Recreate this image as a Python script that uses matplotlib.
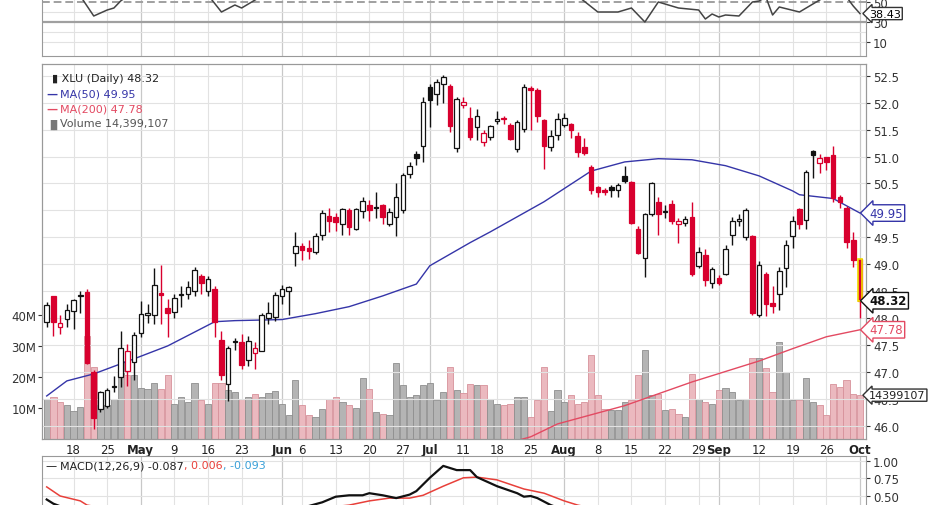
import numpy as np
import pandas as pd
import matplotlib
matplotlib.use("Agg")
import matplotlib.pyplot as plt
from matplotlib.offsetbox import TextArea, HPacker, AnchoredOffsetbox

# ---------------- data ----------------
opens = [47.92,48.40,47.83,47.98,48.13,48.40,48.48,47.00,46.31,46.37,46.72,46.90,47.02,47.18,47.72,48.05,48.05,48.47,48.18,48.11,
         48.42,48.45,48.51,48.78,48.50,48.54,47.59,46.77,47.55,47.56,47.21,47.35,47.39,48.00,48.01,48.40,48.51,49.20,49.33,49.30,
         49.22,49.54,49.90,49.88,49.75,50.00,49.66,49.98,50.10,50.06,50.09,49.75,49.87,50.00,50.68,51.05,51.19,52.29,52.17,52.35,
         52.32,51.15,51.95,51.71,51.55,51.27,51.37,51.66,51.70,51.58,51.14,51.51,52.27,52.24,51.67,51.17,51.40,51.58,51.60,51.39,
         51.17,50.80,50.43,50.38,50.43,50.37,50.63,50.52,49.66,49.12,49.94,50.16,49.97,50.12,49.75,49.77,49.87,48.97,49.17,48.65,
         48.75,48.82,49.54,49.81,49.50,49.53,48.05,48.82,48.28,48.45,48.93,49.52,50.02,49.82,51.11,50.88,50.99,51.02,50.24,50.04,
         49.44,49.10]
highs = [48.29,48.41,48.05,48.26,48.36,48.50,48.54,47.03,46.65,46.70,46.93,47.75,47.52,47.74,48.32,48.25,48.92,48.99,48.36,48.45,
         48.60,48.68,48.95,48.82,48.78,48.60,47.75,47.48,47.62,47.70,47.66,47.55,48.10,48.30,48.48,48.62,48.60,49.59,49.40,49.45,
         49.58,50.00,50.05,49.95,50.05,50.05,50.05,50.25,50.20,50.35,50.12,50.05,50.50,50.70,50.90,51.10,52.10,52.35,52.45,52.52,
         52.35,52.10,52.10,51.92,51.89,51.50,51.58,51.85,51.75,51.62,51.68,52.35,52.32,52.28,51.70,51.50,51.80,51.81,51.62,51.45,
         51.35,50.85,50.45,50.42,50.48,50.50,50.83,50.55,49.70,49.95,50.53,50.25,50.10,50.20,49.85,49.90,50.15,49.32,49.28,48.95,
         48.80,49.35,49.88,49.93,50.05,49.55,49.05,48.85,48.60,48.95,49.45,49.90,50.05,50.75,51.12,51.05,51.00,51.20,50.28,50.08,
         49.60,49.10]
lows = [47.83,47.67,47.70,47.83,47.80,48.10,47.15,45.94,46.25,46.33,46.62,46.72,46.74,46.84,47.64,47.90,47.89,47.89,47.64,48.00,
        48.20,48.35,48.40,48.45,48.40,47.65,46.85,46.46,47.40,47.05,47.10,47.05,47.39,47.88,47.95,48.25,48.05,48.97,49.08,49.10,
        49.18,49.45,49.60,49.62,49.55,49.55,49.63,49.85,49.80,49.85,49.75,49.70,49.53,49.95,50.60,50.85,50.90,51.55,51.95,52.00,
        51.45,51.08,51.90,51.30,51.30,51.20,51.30,51.60,51.60,51.30,51.08,51.45,51.50,51.65,50.77,51.10,51.30,51.55,51.35,51.00,
        51.02,50.30,50.25,50.28,50.25,50.25,50.50,49.75,49.18,48.76,49.90,49.55,49.85,49.75,49.40,49.70,48.78,48.92,48.60,48.55,
        48.62,48.80,49.35,49.70,49.45,48.05,48.02,48.03,48.10,48.15,48.58,49.30,49.65,49.65,50.60,50.70,50.75,50.15,50.05,49.30,
        48.95,48.00]
closes = [48.24,47.92,47.90,48.14,48.34,48.42,47.17,46.14,46.62,46.66,46.74,47.44,47.39,47.69,48.08,48.10,48.61,48.43,48.09,48.37,
          48.44,48.58,48.90,48.65,48.73,47.92,46.94,47.44,47.56,47.13,47.58,47.44,48.05,48.09,48.43,48.54,48.57,49.33,49.27,49.24,
          49.52,49.95,49.81,49.78,50.02,49.69,50.02,50.18,50.00,50.05,49.87,49.97,50.24,50.65,50.83,50.97,52.02,52.05,52.39,52.47,
          51.56,52.07,52.02,51.36,51.76,51.44,51.56,51.70,51.69,51.33,51.64,52.29,52.24,51.76,51.20,51.39,51.70,51.71,51.50,51.08,
          51.07,50.37,50.35,50.34,50.37,50.47,50.54,49.77,49.20,49.93,50.51,49.93,49.99,49.81,49.80,49.83,48.82,49.22,48.70,48.91,
          48.65,49.28,49.81,49.84,50.00,48.09,48.99,48.26,48.22,48.88,49.35,49.81,49.74,50.71,51.02,50.98,50.90,50.23,50.16,49.42,
          49.08,48.32]
volume_m = [13,13.5,12,11,9,10.3,33,23,11,11,13,25,20.5,20.5,16.5,16,18,16,20.5,11.4,
            13.5,12,18,12.5,11.4,18,18,15.7,15.2,13,13.5,14.6,13.5,14.8,15.4,11.4,7.8,19,11,7.8,
            7,9.6,13,13.5,12,11,10,19.5,16,8.7,8.2,7.8,24.3,17.3,13.5,14,17.3,18,12.5,15.2,
            23,15.7,14.8,17.8,17.3,17.3,13,11.4,11,11.4,13.5,13.5,7,12.5,23,9,15.7,12,14,11.4,
            12,27,14,9.8,9.2,9.2,12,12.5,20.5,28.6,14,14.6,9.2,9.8,8.2,7,21,13,12,11.4,
            15.7,16.5,15.2,12.5,13,26,26,22.7,15.2,31.3,21.6,12.5,12.5,19.5,12,11,7.8,17.8,16.8,19,
            14.6,14.1]

ma50_idx = [0,3,7,13,18,25,28,35,40,45,50,55,57,63,66,74,81,86,91,96,101,106,111,112,117,121]
ma50_val = [46.55,46.83,46.96,47.24,47.48,47.93,47.95,47.97,48.08,48.21,48.41,48.63,48.97,49.40,49.60,50.16,50.73,50.90,50.96,50.94,50.83,50.64,50.36,50.29,50.22,49.95]
ma200_idx = [67,72,76,86,96,106,111,116,121]
ma200_val = [45.62,45.79,46.03,46.37,46.81,47.20,47.43,47.65,47.78]

rsi_idx = [0,3,5,7,9,10,11,12,18,24,26,28,29,30,32,40,50,58,66,75,79,82,85,87,89,91,93,94,97,98,99,100,101,103,105,106,107,108,109,112,116,118,119,120,121]
rsi_val = [60,58,56,36,42,44,51,56,62,57,40,47,44,48,56,62,65,75,65,60,56,40,40,44,30,50,46,44,42,33,38,35,37,36,50,51,55,37,45,40,56,62,55,46,38.43]

macd_idx = [0,1,4,10,20,30,38,41,43,45,47,48,50,52,54,55,57,59,61,63,64,67,70,71,72,73,75,80,90,100,110,116,121]
macd_val = [0.45,0.39,0.28,0.20,0.10,0.18,0.33,0.41,0.49,0.51,0.51,0.54,0.51,0.47,0.52,0.57,0.76,0.93,0.87,0.87,0.77,0.64,0.54,0.49,0.50,0.47,0.37,0.20,0.05,-0.15,-0.05,0.10,-0.087]
sig_idx = [0,2,5,6,15,30,45,48,51,54,56,59,62,64,67,71,74,77,79,90,105,121]
sig_val = [0.63,0.50,0.43,0.37,0.22,0.22,0.37,0.43,0.47,0.47,0.51,0.64,0.76,0.77,0.73,0.60,0.54,0.43,0.37,0.15,0.00,0.006]

holidays = ["2011-05-30", "2011-07-04", "2011-09-05"]

# ---------------- layout ----------------
W, H = 931, 506
fig = plt.figure(figsize=(W/100, H/100), dpi=100)
fig.patch.set_facecolor("white")
def rect(x0, y0, x1, y1):
    return [x0/W, 1 - y1/H, (x1-x0)/W, (y1-y0)/H]

n = len(closes)
dates = pd.bdate_range(end="2011-10-03", periods=n + 3, freq="C", holidays=holidays)[-n:]
x = np.arange(n)

RED = "#d8002e"; BLK = "#111111"
GRID = "#e2e2e2"; GRIDM = "#c8c8c8"
XL = (-0.7, 121.9)

mon_pos, mon_lab = [], []
wk_pos, wk_lab = [], []
for i, d in enumerate(dates):
    if i > 0 and d.month != dates[i-1].month:
        mon_pos.append(i); mon_lab.append(d.strftime("%b"))
    elif d.weekday() == 0:
        wk_pos.append(i); wk_lab.append(str(d.day))

def vgrid(ax):
    for p in wk_pos:
        ax.axvline(p, color=GRID, lw=0.8, zorder=0)
    for p in mon_pos:
        ax.axvline(p, color=GRIDM, lw=0.9, zorder=0)

# volume axes (under)
axv = fig.add_axes(rect(42, 65, 866, 440))
axv.set_xlim(*XL)
axv.set_ylim(0, 120.6)
vgrid(axv)
prev = np.r_[closes[0], closes[:-1]]
up = np.array(closes) >= prev
axv.bar(x, volume_m, width=0.92, color=np.where(up, "#b4b4b4", "#ebb9bf"),
        edgecolor=np.where(up, "#8e8e8e", "#d7919b"), lw=0.6, zorder=1)
axv.set_yticks([10, 20, 30, 40])
axv.set_yticklabels(["10M", "20M", "30M", "40M"])
axv.tick_params(axis="y", labelsize=8.5, length=3, pad=1, colors="#333333")
axv.set_xticks([])
for s in axv.spines.values():
    s.set_color("#999999")

# price axes (on top)
ax = fig.add_axes(rect(42, 65, 866, 440))
ax.patch.set_visible(False)
ax.set_ylim(45.75, 52.72)
for lv in np.arange(46.0, 52.75, 0.5):
    ax.axhline(lv, color=GRID, lw=0.8, zorder=0)
ax.yaxis.tick_right()
ax.set_yticks(np.arange(46.0, 52.75, 0.5))
ax.set_yticklabels([f"{v:.1f}" for v in np.arange(46.0, 52.75, 0.5)])
ax.tick_params(axis="y", labelsize=8.5, length=3, pad=2, colors="#333333")
for s in ax.spines.values():
    s.set_color("#999999")

o = np.array(opens); c = np.array(closes); h = np.array(highs); l = np.array(lows)
col = np.where(up, BLK, RED)
ax.vlines(x, l, h, colors=col, lw=1.0, zorder=3)
filled = c < o
bot = np.minimum(o, c); hgt = np.maximum(np.abs(c - o), 0.02)
ax.bar(x, hgt, bottom=bot, width=0.68, color=np.where(filled, col, "white"),
       edgecolor=col, lw=0.9, zorder=4)
ax.bar(x[-1], hgt[-1], bottom=bot[-1], width=0.68, color=RED, edgecolor="#f0e000", lw=1.2, zorder=5)

ax.plot(ma50_idx, ma50_val, color="#3535a8", lw=1.0, zorder=2)
ax.plot(ma200_idx, ma200_val, color="#e34a62", lw=1.0, zorder=2)

tick_pos = mon_pos + wk_pos
tick_lab = mon_lab + wk_lab
ax.set_xticks(tick_pos)
ax.set_xticklabels(tick_lab)
ax.tick_params(axis="x", labelsize=8.5, length=0, pad=3, colors="#222222")
for t, lab in zip(ax.get_xticklabels(), tick_lab):
    if lab.isalpha():
        t.set_fontweight("bold")
ax.set_xlim(*XL)

tx = ax.transAxes
ax.text(0.012, 0.975, "\u25AE XLU (Daily) 48.32", transform=tx, fontsize=8, color="#222222", va="top")
ax.text(0.005, 0.935, "\u2014", transform=tx, fontsize=8, color="#3535a8", va="top", fontweight="bold")
ax.text(0.022, 0.935, "MA(50) 49.95", transform=tx, fontsize=8, color="#3535a8", va="top")
ax.text(0.005, 0.895, "\u2014", transform=tx, fontsize=8, color="#e34a62", va="top", fontweight="bold")
ax.text(0.022, 0.895, "MA(200) 47.78", transform=tx, fontsize=8, color="#e34a62", va="top")
ax.text(0.005, 0.855, "\u2590\u258C", transform=tx, fontsize=7, color="#777777", va="top")
ax.text(0.022, 0.855, "Volume 14,399,107", transform=tx, fontsize=8, color="#555555", va="top")

def tag(y, s, color, bold=False):
    ax.text(1.004, y, s, transform=ax.get_yaxis_transform(), fontsize=8.5, color=color,
            fontweight="bold" if bold else "normal", va="center", ha="left", zorder=10,
            bbox=dict(boxstyle="larrow,pad=0.15", fc="white", ec=color, lw=1), clip_on=False)
tag(ma50_val[-1], "49.95", "#3535a8")
tag(closes[-1], "48.32", "#111111", bold=True)
tag(ma200_val[-1], "47.78", "#e34a62")
ax.text(1.004, volume_m[-1]/120.6, "14399107", transform=ax.transAxes, fontsize=8, color="#222222",
        va="center", ha="left", zorder=10, clip_on=False,
        bbox=dict(boxstyle="larrow,pad=0.1", fc="white", ec="#333333", lw=1))

# RSI panel
axr = fig.add_axes(rect(42, -5, 866, 57))
axr.set_xlim(*XL)
axr.set_ylim(-4, 58)
vgrid(axr)
for lv in [10, 20, 40]:
    axr.axhline(lv, color=GRID, lw=0.8, zorder=0)
axr.axhline(30, color="#a0a0a0", lw=1.6, zorder=1)
axr.axhline(50, color="#a0a0a0", lw=1.4, ls=(0, (4, 2)), zorder=1)
axr.plot(rsi_idx, rsi_val, color="#444444", lw=1.1, zorder=3)
axr.yaxis.tick_right()
axr.set_yticks([10, 30, 50])
axr.tick_params(axis="y", labelsize=8.5, length=3, pad=2, colors="#333333")
axr.set_xticks([])
for s in axr.spines.values():
    s.set_color("#999999")
axr.text(1.004, 38.43, "38.43", transform=axr.get_yaxis_transform(), fontsize=8, va="center", ha="left",
         bbox=dict(boxstyle="larrow,pad=0.1", fc="white", ec="#333333", lw=1), clip_on=False, zorder=10)

# MACD panel
axm = fig.add_axes(rect(42, 457, 866, 557))
axm.set_xlim(*XL)
axm.set_ylim(1.0714 - 100*0.25/17.5, 1.0714)
vgrid(axm)
for lv in [1.0, 0.75, 0.5, 0.25, 0.0]:
    axm.axhline(lv, color=GRID, lw=0.8, zorder=0)
axm.plot(sig_idx, sig_val, color="#e8403a", lw=1.1, zorder=2)
axm.plot(macd_idx, macd_val, color="#111111", lw=1.6, zorder=3)
axm.yaxis.tick_right()
axm.set_yticks([1.0, 0.75, 0.5, 0.25])
axm.set_yticklabels(["1.00", "0.75", "0.50", "0.25"])
axm.tick_params(axis="y", labelsize=8.5, length=3, pad=2, colors="#333333")
axm.set_xticks([])
for s in axm.spines.values():
    s.set_color("#999999")
parts = [("\u2014 ", "#111111"), ("MACD(12,26,9) -0.087", "#222222"),
         (", 0.006", "#e8403a"), (", -0.093", "#3aa0d8")]
box = HPacker(children=[TextArea(s, textprops=dict(color=cc, fontsize=8)) for s, cc in parts],
              align="baseline", pad=0, sep=0)
anch = AnchoredOffsetbox(loc="upper left", child=box, pad=0.1, frameon=False,
                         bbox_to_anchor=(0.003, 0.97), bbox_transform=axm.transAxes, borderpad=0)
axm.add_artist(anch)

fig.savefig("out.png", dpi=100, facecolor="white")
